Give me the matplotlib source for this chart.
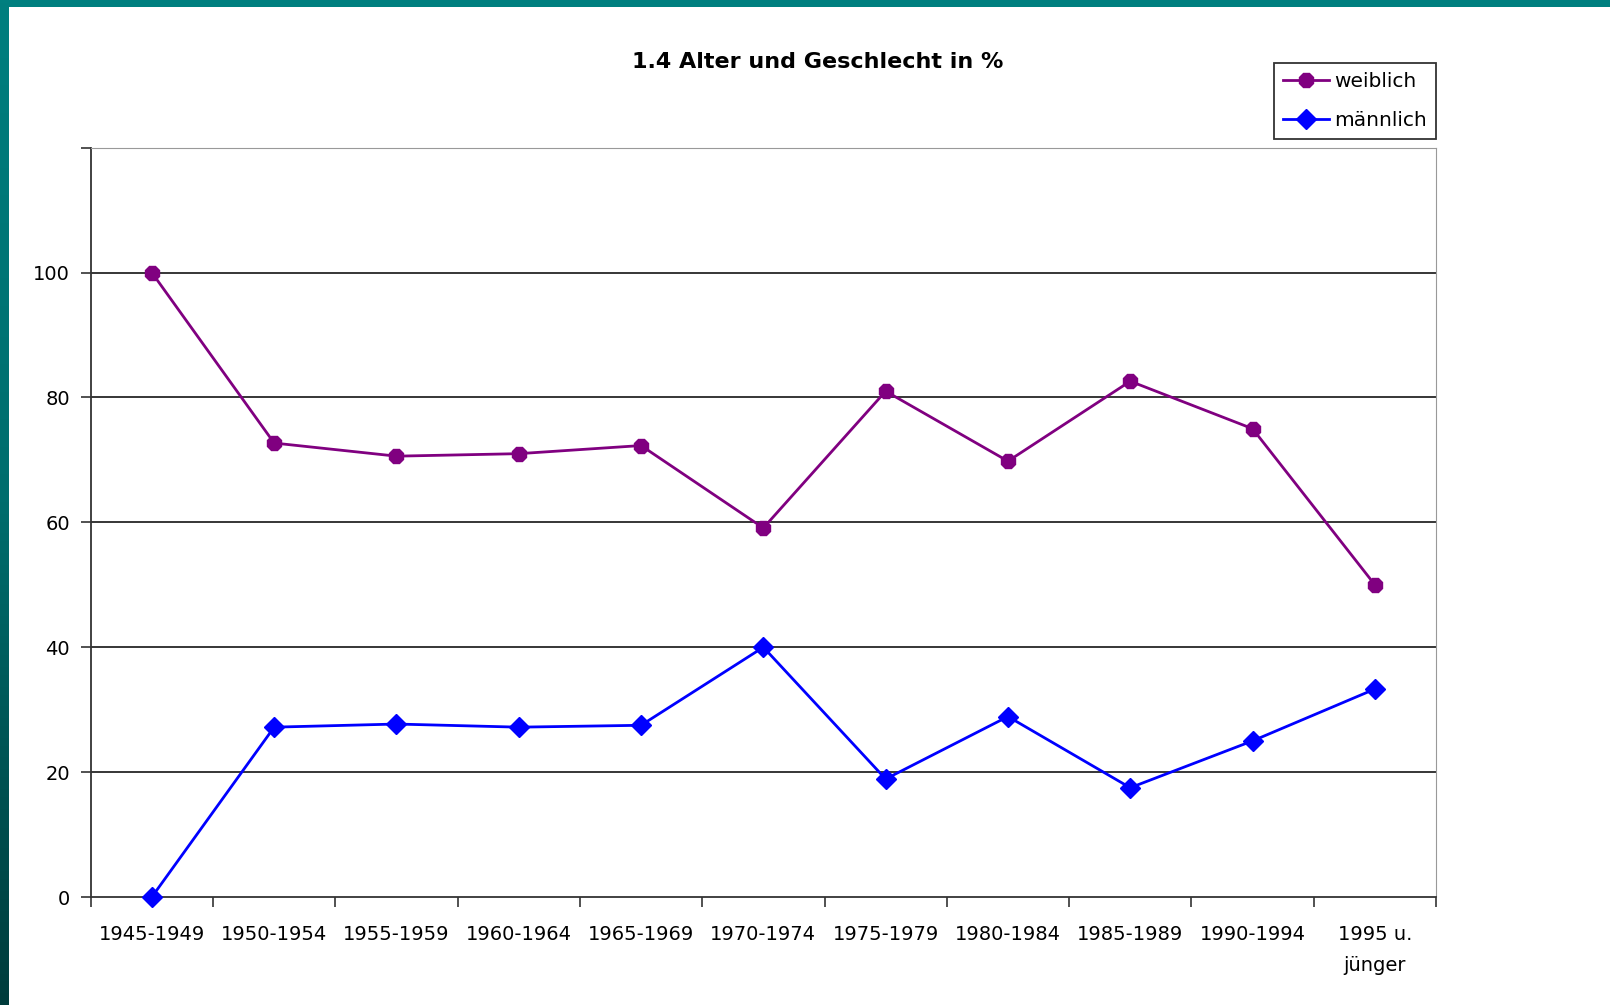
import numpy as np
import matplotlib
matplotlib.use("Agg")
import matplotlib.pyplot as plt
from matplotlib.colors import LinearSegmentedColormap

kategorien = ["1945-1949", "1950-1954", "1955-1959", "1960-1964", "1965-1969",
              "1970-1974", "1975-1979", "1980-1984", "1985-1989", "1990-1994",
              "1995 u.\njünger"]
weiblich = [100.0, 72.7, 70.6, 71.0, 72.3, 59.1, 81.0, 69.8, 82.6, 75.0, 50.0]
maennlich = [0.0, 27.2, 27.7, 27.2, 27.5, 40.0, 18.9, 28.9, 17.5, 25.0, 33.3]
y_ticks = [0, 20, 40, 60, 80, 100, 120]
y_labels = ["0", "20", "40", "60", "80", "100", ""]

plt.rcParams["font.family"] = ["DejaVu Sans"]

W, H = 1610, 1005
fig = plt.figure(figsize=(W / 100, H / 100), dpi=100)
fig.patch.set_facecolor("white")

# Folienrand: oben Streifen, links Verlauf
top = fig.add_axes([0, 1 - 7 / H, 1, 7 / H])
top.set_facecolor("#007f7f")
top.set_xticks([]); top.set_yticks([])
for s in top.spines.values():
    s.set_visible(False)

left = fig.add_axes([0, 0, 8 / W, 1])
cmap = LinearSegmentedColormap.from_list("rand", ["#007f7f", "#006d6d", "#003c3c"])
left.imshow(np.linspace(0, 1, 256).reshape(-1, 1), aspect="auto", cmap=cmap)
left.set_xticks([]); left.set_yticks([])
for s in left.spines.values():
    s.set_visible(False)

ax = fig.add_axes([90.7 / W, 1 - 897 / H, (1436 - 90.7) / W, (897 - 147.7) / H])
x = np.arange(len(kategorien))

ax.plot(x, weiblich, color="#800080", lw=2, marker="8", ms=11,
        label="weiblich", zorder=3)
ax.plot(x, maennlich, color="#0000ff", lw=2, marker="D", ms=10,
        label="männlich", zorder=3, clip_on=False)

ax.set_xlim(-0.5, len(kategorien) - 0.5)
ax.set_ylim(0, 120)
ax.set_yticks(y_ticks)
ax.set_yticklabels(y_labels, fontsize=14)
ax.set_xticks(x)
ax.set_xticklabels(kategorien, fontsize=14, linespacing=1.8)
ax.set_xticks(np.arange(-0.5, len(kategorien)), minor=True)
ax.tick_params(axis="x", which="major", length=0, pad=20)
ax.tick_params(axis="x", which="minor", length=7, width=1.2, direction="out", color="#333333")
ax.tick_params(axis="y", length=7, width=1.2, direction="out", color="#333333", pad=8)

for yv in y_ticks[1:-1]:
    ax.axhline(yv, color="black", lw=1.1, zorder=1)

ax.spines["left"].set_color("#333333")
ax.spines["bottom"].set_color("#333333")
ax.spines["left"].set_linewidth(1.3)
ax.spines["bottom"].set_linewidth(1.3)
ax.spines["top"].set_color("#999999")
ax.spines["right"].set_color("#999999")

fig.text(818 / W, 1 - 62 / H, "1.4 Alter und Geschlecht in %", ha="center", va="center",
         fontsize=16, fontweight="bold")

leg = fig.legend(loc="upper right", bbox_to_anchor=(1436 / W, 1 - 63 / H),
                 fontsize=14.5, frameon=True, fancybox=False, edgecolor="black",
                 handlelength=2.3, handletextpad=0.25, borderpad=0.45, labelspacing=1.0,
                 borderaxespad=0)
leg.get_frame().set_linewidth(1.3)

fig.savefig("out.png", dpi=100)
